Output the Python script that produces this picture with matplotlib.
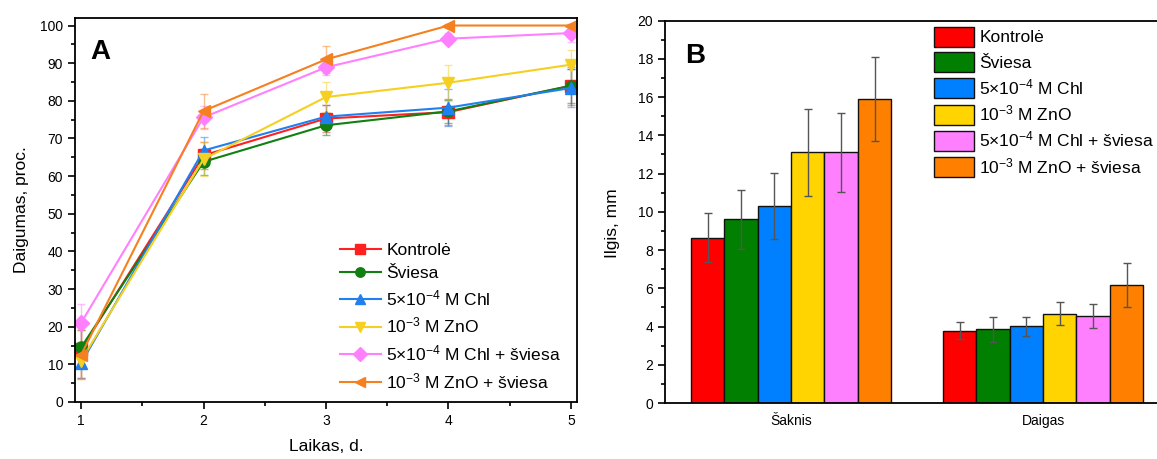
import numpy as np
import matplotlib.pyplot as plt
from matplotlib.ticker import MultipleLocator

plt.rcParams['font.family'] = ['Liberation Sans', 'DejaVu Sans']
plt.rcParams['mathtext.fontset'] = 'custom'
plt.rcParams['mathtext.rm'] = 'Liberation Sans'
plt.rcParams['mathtext.it'] = 'Liberation Sans'

# series names and colours
labels = ['Kontrolė', 'Šviesa', '5×10$^{-4}$ M Chl', '10$^{-3}$ M ZnO',
          '5×10$^{-4}$ M Chl + šviesa', '10$^{-3}$ M ZnO + šviesa']
colors = ['#ff0000', '#007f00', '#0080ff', '#ffd400', '#ff80ff', '#ff8000']
line_colors = ['#ff2020', '#108010', '#2080f0', '#f5d020', '#ff80ff', '#f58020']
markers = ['s', 'o', '^', 'v', 'D', '<']

# panel A: germination over days
days = [1, 2, 3, 4, 5]
germ = [
    [14.0, 65.5, 75.3, 77.0, 84.0],
    [14.5, 63.8, 73.5, 77.2, 84.0],
    [10.3, 66.8, 75.8, 78.2, 83.4],
    [11.0, 64.5, 81.0, 84.8, 89.6],
    [21.0, 75.6, 88.9, 96.5, 98.0],
    [12.5, 77.3, 91.0, 100.0, 100.0],
]
germ_err = [
    [7.5, 3.5, 3.5, 3.5, 5.0],
    [4.5, 3.5, 2.5, 3.0, 4.5],
    [4.0, 3.5, 3.0, 5.0, 5.0],
    [5.0, 4.5, 4.0, 4.8, 4.0],
    [5.0, 3.0, 2.0, 1.5, 2.5],
    [6.5, 4.5, 3.5, 0.3, 0.3],
]

# panel B: length of root and sprout
groups = ['Šaknis', 'Daigas']
length = [
    [8.65, 3.78],
    [9.6, 3.85],
    [10.3, 4.02],
    [13.1, 4.66],
    [13.1, 4.56],
    [15.9, 6.15],
]
length_err = [
    [1.3, 0.45],
    [1.55, 0.67],
    [1.75, 0.5],
    [2.25, 0.6],
    [2.05, 0.63],
    [2.2, 1.15],
]

fig = plt.figure(figsize=(11.57, 4.59), dpi=100)

# ---- A ----
axA = fig.add_axes([0.0648, 0.1242, 0.4339, 0.8366])
for i in range(6):
    axA.errorbar(days, germ[i], yerr=germ_err[i], fmt='none', ecolor=line_colors[i],
                 alpha=0.5, elinewidth=1, capsize=3)
for i in range(6):
    axA.plot(days, germ[i], color=line_colors[i], marker=markers[i], markersize=8,
             linewidth=1.5, label=labels[i])
axA.set_xlim(0.95, 5.05)
axA.set_ylim(0, 102)
axA.xaxis.set_major_locator(MultipleLocator(1))
axA.xaxis.set_minor_locator(MultipleLocator(0.5))
axA.yaxis.set_major_locator(MultipleLocator(10))
axA.yaxis.set_minor_locator(MultipleLocator(5))
axA.tick_params(which='both', direction='out', labelsize=10, width=1.2)
axA.tick_params(which='major', length=5)
axA.tick_params(which='minor', length=3)
for s in axA.spines.values():
    s.set_linewidth(1.3)
axA.set_xlabel('Laikas, d.', fontsize=12.5, labelpad=8)
axA.set_ylabel('Daigumas, proc.', fontsize=12.5, labelpad=8)
axA.text(0.03, 0.945, 'A', transform=axA.transAxes, fontsize=20, fontweight='bold',
         va='top', ha='left')
handles, lbls = axA.get_legend_handles_labels()
axA.legend(handles, lbls, loc='lower right', bbox_to_anchor=(1.0, -0.012), frameon=False,
           fontsize=12.5, handlelength=2.4, handletextpad=0.3, labelspacing=0.44,
           markerscale=0.85)

# ---- B ----
axB = fig.add_axes([0.5748, 0.122, 0.4356, 0.8333])
x = np.arange(len(groups))
w = 0.1325
for i in range(6):
    axB.bar(x + (i - 2.5) * w, length[i], width=w, color=colors[i], edgecolor='#111111',
            linewidth=1, label=labels[i],
            yerr=length_err[i], ecolor='#555555', error_kw=dict(elinewidth=1, capsize=3))
axB.set_xlim(-0.5, 1.5)
axB.set_ylim(0, 20)
axB.set_xticks(x)
axB.set_xticklabels(groups, fontsize=10)
axB.tick_params(axis='x', length=0, pad=8)
axB.yaxis.set_major_locator(MultipleLocator(2))
axB.yaxis.set_minor_locator(MultipleLocator(1))
axB.tick_params(axis='y', which='both', direction='out', labelsize=10, width=1.2)
axB.tick_params(axis='y', which='major', length=5)
axB.tick_params(axis='y', which='minor', length=3)
for s in axB.spines.values():
    s.set_linewidth(1.3)
axB.set_ylabel('Ilgis, mm', fontsize=12.5)
axB.yaxis.set_label_coords(-0.09, 0.47)
axB.text(0.04, 0.94, 'B', transform=axB.transAxes, fontsize=20, fontweight='bold',
         va='top', ha='left')
axB.legend(loc='upper left', bbox_to_anchor=(0.503, 1.025), frameon=False, fontsize=12.5,
           handlelength=2.3, handleheight=1.4, handletextpad=0.3, labelspacing=0.3)

fig.savefig('out.png', dpi=100)
